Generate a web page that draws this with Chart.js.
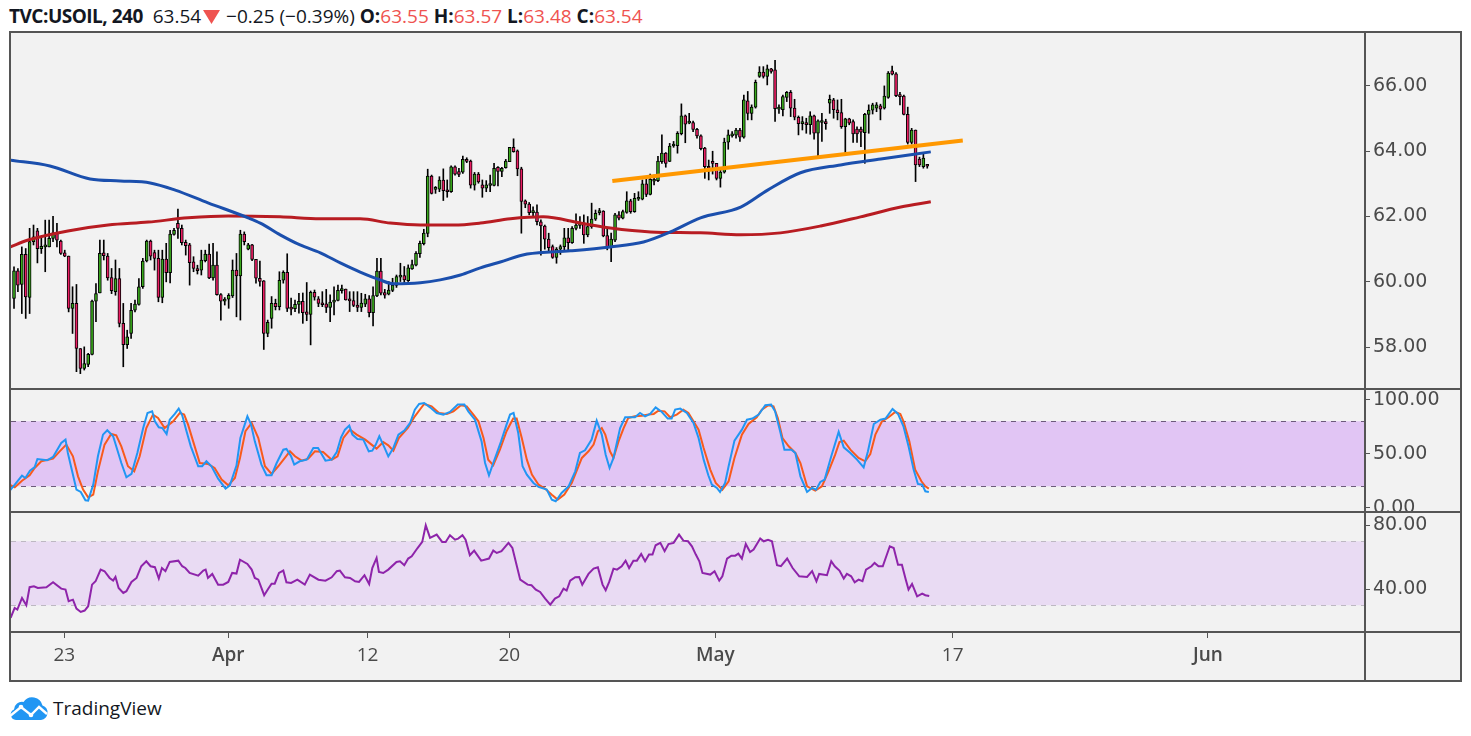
<!DOCTYPE html>
<html>
<head>
<meta charset="utf-8">
<script src="https://cdn.jsdelivr.net/npm/chart.js@4.4.1/dist/chart.umd.min.js"></script>
<style>
  html, body { margin: 0; width: 1471px; height: 736px; background: #fff; overflow: hidden; font-family: "Open Sans", sans-serif; }
  #head { position: absolute; left: 9px; top: 2px; line-height: 28px; font-size: 19px; color: #131722; white-space: nowrap; }
  #head b { font-weight: 700; }
  #head b.title { letter-spacing: -0.5px; }
  #head .dn { color: #ef5350; }
  #head svg { vertical-align: -1px; margin: 0 1px 0 2px; }
  #frame { position: absolute; left: 9px; top: 31px; width: 1453px; height: 651px; box-sizing: border-box; border: 2px solid #555; background: #f2f2f2; }
  #frame canvas { position: absolute; left: 0; }
  .hl { position: absolute; left: 0; width: 1449px; height: 2px; background: #555; }
  .vl { position: absolute; top: 0; left: 1353px; width: 2px; height: 647px; background: #555; }
  #logo { position: absolute; left: 8px; top: 695px; display: flex; align-items: center; font-size: 19px; color: #131722; }
  #logo svg { margin-right: 4px; }
</style>
</head>
<body>
<div id="head"></div>
<div id="frame">
  <canvas id="price" width="1449" height="355" style="top:0"></canvas>
  <canvas id="stoch" width="1449" height="121" style="top:357px"></canvas>
  <canvas id="rsi" width="1449" height="167" style="top:480px"></canvas>
  <div class="hl" style="top:355px"></div>
  <div class="hl" style="top:478px"></div>
  <div class="hl" style="top:598px"></div>
  <div class="vl"></div>
</div>
<div id="logo">
  <svg width="41" height="26" viewBox="0 0 41 26">
    <path d="M8 25 H33 A7.5 7.5 0 0 0 34.5 10.5 A10.5 10.5 0 0 0 15.5 7 A8 8 0 0 0 6 14.5 A5.5 5.5 0 0 0 8 25 Z" fill="#2196f3"/>
    <polyline points="2,21 13,12 23,20 31,12 39,19" fill="none" stroke="#fff" stroke-width="2.4"/>
    <circle cx="13" cy="12" r="2.3" fill="#fff"/>
    <circle cx="23" cy="20" r="2.3" fill="#fff"/>
  </svg>
  <span>TradingView</span>
</div>
<script>
const symbol = 'TVC:USOIL';
const interval = '240';

// 4h candles, oldest first
const opens = [59.49,60.34,59.92,60.84,59.52,61.23,61.56,61.02,61.07,61.07,61.33,61.50,61.25,60.89,60.79,59.19,59.34,57.96,57.35,57.47,
  57.78,59.41,59.66,60.89,60.79,60.13,59.70,60.10,58.73,58.08,58.42,59.13,59.31,59.85,60.64,61.25,60.90,60.72,59.52,60.70,
  60.28,61.45,61.79,61.64,61.21,61.13,60.61,60.41,60.36,60.65,60.85,60.12,60.51,59.61,59.41,59.47,59.57,60.36,60.18,61.46,
  61.00,61.13,60.69,60.11,60.03,58.42,58.88,59.34,59.24,60.05,60.29,59.23,59.18,59.31,59.40,59.08,59.00,59.68,59.48,59.36,
  59.33,59.22,59.38,59.43,59.73,59.78,59.45,59.43,59.29,59.22,59.32,59.48,59.06,59.57,60.33,59.67,59.62,59.74,59.89,60.14,
  60.19,60.04,60.40,60.51,60.86,61.17,61.48,63.24,62.83,62.84,63.12,62.80,62.76,63.52,63.38,63.36,63.75,63.70,62.96,63.30,
  62.97,62.87,62.95,62.95,63.51,63.38,63.50,63.68,64.12,64.01,63.46,62.48,62.38,62.12,62.14,61.84,61.71,61.31,61.08,60.75,
  61.00,61.08,61.35,61.20,61.64,61.73,61.81,61.44,61.69,61.92,62.12,62.17,61.42,61.05,61.28,62.05,61.95,62.13,62.48,62.15,
  62.53,62.53,63.00,62.68,63.08,63.10,63.68,63.94,63.69,64.16,64.17,64.54,65.08,64.86,64.88,64.67,64.47,64.10,63.53,63.65,
  63.63,63.17,63.36,64.28,64.47,64.49,64.65,64.43,65.54,65.16,65.35,66.29,66.42,66.29,66.52,66.49,65.29,65.27,65.65,65.80,
  65.32,65.04,64.84,64.88,64.81,65.08,64.55,64.88,64.91,65.47,65.57,65.27,65.18,64.75,64.99,64.91,64.68,64.68,64.57,65.13,
  65.26,65.32,65.39,65.32,65.65,66.46,66.37,65.72,65.69,65.13,64.27,64.65,63.76,63.53,63.55];
const highs = [60.46,60.41,61.07,61.02,61.64,61.74,61.64,61.38,61.89,61.89,62.01,61.79,61.28,60.97,60.79,59.85,59.92,57.96,58.01,57.81,
  59.44,59.95,61.28,61.28,60.87,60.41,60.67,60.41,59.34,58.52,59.34,59.44,60.10,60.72,61.28,61.28,60.97,60.97,60.97,61.18,
  61.58,61.64,62.23,61.74,61.28,61.18,60.77,60.51,60.97,60.97,61.16,61.18,60.92,59.64,59.52,59.64,60.67,60.87,61.58,61.53,
  61.18,61.15,60.69,60.64,60.04,58.83,59.55,59.47,60.31,60.34,60.86,59.50,59.44,59.65,59.66,59.98,59.72,59.75,59.55,59.70,
  59.77,59.60,59.85,59.90,59.90,59.78,59.70,59.70,59.70,59.65,59.62,59.58,59.85,60.72,60.72,59.77,60.01,60.11,60.21,60.57,
  60.47,60.52,60.67,60.93,61.25,61.61,63.45,63.27,62.92,63.22,63.46,63.12,63.55,63.55,63.48,63.85,63.80,63.73,63.35,63.35,
  63.12,63.10,63.27,63.63,63.53,63.51,63.75,64.12,64.38,64.04,63.51,62.51,62.43,62.30,62.36,61.90,61.74,61.49,61.13,61.05,
  61.13,61.64,61.64,61.69,62.08,62.00,62.05,62.00,62.41,62.20,62.25,62.18,61.64,61.49,62.10,62.15,62.20,62.76,62.53,62.71,
  62.76,63.12,63.17,63.30,63.27,63.84,64.50,63.96,64.24,64.30,64.60,65.45,65.11,65.16,64.92,64.70,64.50,64.12,63.73,64.00,
  63.63,63.48,64.40,64.65,64.60,64.70,64.70,65.72,65.83,65.42,66.18,66.59,66.59,66.64,66.54,66.78,65.42,65.72,65.83,65.86,
  65.59,65.08,65.06,65.01,65.21,65.11,64.96,65.16,64.98,65.72,65.62,65.57,65.59,65.01,65.01,64.96,64.75,64.74,65.16,65.42,
  65.47,65.49,65.44,66.00,66.44,66.61,66.41,65.80,65.72,65.35,64.70,64.65,63.82,63.92,63.57];
const lows = [59.19,59.70,59.03,58.88,59.03,61.13,60.58,60.87,60.31,61.07,61.23,61.07,60.84,60.77,59.08,58.42,57.25,57.19,57.30,57.40,
  57.76,58.78,59.66,60.67,60.05,59.64,59.59,58.62,57.40,57.96,58.27,59.08,59.29,59.80,60.61,60.67,60.36,59.39,59.36,60.00,
  59.97,61.43,61.33,61.13,60.82,59.90,60.31,60.24,60.21,60.61,60.10,60.05,59.59,58.83,59.29,59.19,59.52,58.93,58.83,61.13,
  60.98,60.65,59.96,59.87,57.93,58.32,58.58,59.14,59.14,59.96,59.09,58.99,59.09,59.04,58.73,58.81,58.07,59.44,59.24,59.24,
  59.06,58.78,58.99,59.42,59.65,59.44,59.09,59.24,59.09,59.09,59.24,58.93,58.65,59.55,59.60,59.50,59.60,59.70,59.83,60.01,
  59.98,60.01,60.38,60.49,60.75,61.13,61.38,62.69,62.71,62.76,62.49,62.59,62.74,63.27,63.22,63.32,63.65,62.87,62.81,63.02,
  62.59,62.76,62.76,62.94,62.94,63.22,63.48,63.68,63.97,63.25,61.49,62.27,62.05,62.00,61.74,60.82,61.00,60.93,60.72,60.57,
  60.84,60.93,60.98,61.18,61.59,61.64,61.18,61.38,61.64,61.88,62.05,61.38,60.98,60.62,61.23,61.90,61.93,62.10,62.10,62.13,
  62.49,62.51,62.61,62.66,62.97,63.07,63.63,63.51,63.68,64.12,63.94,64.50,64.26,64.84,64.60,64.40,64.04,63.17,63.12,63.30,
  63.12,62.90,63.33,64.06,64.43,64.40,64.30,64.40,64.96,64.96,65.32,66.26,66.24,66.03,66.39,64.91,65.16,65.08,65.52,65.06,
  64.96,64.50,64.65,64.55,64.52,64.37,63.86,64.30,64.67,65.16,65.01,64.96,64.70,63.94,64.81,64.27,64.27,64.14,63.63,64.55,
  65.14,65.21,64.96,65.29,65.62,66.34,65.67,65.42,65.11,64.22,64.22,63.07,63.53,63.48,63.48];
const closes = [60.34,59.90,60.84,59.54,61.23,61.38,61.02,61.09,61.09,61.33,61.50,61.28,60.87,60.79,59.19,59.34,57.96,57.35,57.50,57.78,
  59.41,59.64,60.87,60.80,60.12,59.73,60.10,58.73,58.08,58.32,59.13,59.32,59.85,60.64,61.25,60.79,60.72,59.52,60.70,60.28,
  61.46,61.58,61.64,61.20,61.11,60.59,60.41,60.34,60.67,60.85,60.12,60.51,59.61,59.41,59.47,59.59,60.36,60.18,61.46,61.23,
  61.13,60.69,60.11,60.01,58.42,58.76,59.34,59.24,60.05,60.29,59.19,59.16,59.31,59.40,59.06,59.00,59.68,59.53,59.34,59.30,
  59.22,59.38,59.44,59.74,59.78,59.45,59.42,59.28,59.22,59.35,59.48,59.06,59.58,60.33,59.65,59.59,59.75,59.90,60.16,60.21,
  60.06,60.43,60.53,60.87,61.18,61.49,63.24,62.71,62.87,63.12,62.79,62.76,63.52,63.30,63.29,63.75,63.69,62.96,63.30,63.06,
  62.87,62.97,62.97,63.48,63.38,63.48,63.70,64.12,63.99,63.46,62.46,62.38,62.12,62.14,61.84,61.71,61.31,61.05,60.75,61.00,
  61.08,61.35,61.20,61.64,61.74,61.81,61.44,61.69,61.92,62.10,62.15,61.41,61.05,61.31,62.05,61.95,62.15,62.48,62.15,62.56,
  62.58,63.00,62.68,63.14,63.10,63.70,63.94,63.63,64.16,64.19,64.55,65.08,64.83,64.88,64.67,64.47,64.08,63.53,63.48,63.63,
  63.17,63.36,64.28,64.50,64.50,64.65,64.43,65.57,65.16,65.35,66.11,66.42,66.29,66.52,66.44,65.30,65.32,65.67,65.80,65.32,
  65.04,64.84,64.91,64.81,65.08,64.55,64.93,64.91,64.84,65.59,65.27,65.18,64.75,64.99,64.86,64.53,64.53,64.58,65.13,65.26,
  65.42,65.42,65.29,65.69,66.39,66.36,65.70,65.67,65.13,64.27,64.65,63.58,63.58,63.79,63.54];

// moving averages, [bar index, price]
const maFast = [[-1,63.73],[9.2,63.55],[19.5,63.15],[27.2,63.09],[34.9,63.03],[41.3,62.81],[49.7,62.42],[60,61.96],[63.1,61.80],
  [68.2,61.44],[73.3,61.13],[78.5,60.89],[83.6,60.58],[88.7,60.30],[93.8,60.06],[97.2,59.94],[104.1,59.97],[109.2,60.06],
  [114.4,60.21],[119.5,60.43],[124.6,60.61],[131.5,60.85],[142.6,60.95],[152.8,61.07],[161.3,61.22],[168.2,61.53],
  [175.9,61.96],[186.2,62.29],[193.1,62.81],[201.5,63.34],[211.8,63.58],[222.1,63.76],[234.9,63.98]];
const maSlow = [[-1,61.07],[3.6,61.28],[13.8,61.56],[24.1,61.74],[34.4,61.83],[44.6,61.96],[54.9,62.02],[68.2,61.99],
  [78.5,61.93],[88.7,61.93],[96.4,61.80],[104.1,61.74],[112.6,61.74],[119.5,61.80],[127.2,61.93],[135.6,61.99],
  [145.1,61.80],[152.8,61.65],[163.1,61.53],[175.9,61.50],[186.2,61.44],[196.4,61.50],[206.7,61.71],[216.9,61.99],
  [227.2,62.29],[234.9,62.45]];
const trendLine = [[153.3,63.09],[243.1,64.33]];

// stochastic %K / %D, [bar index, value]
const stochK = [[-1.1,16.0],[0.2,21.5],[2.05,29.8],[2.9,27.7],[4.1,34.5],[5.3,37.8],[6.0,45.2],[7.4,44.6],[8.5,44.0],[10.0,47.1],
  [12.1,60.0],[13.2,63.1],[13.8,50.8],[14.7,36.9],[16.0,16.9],[17.1,14.8],[18.3,7.1],[19.0,6.8],[20.3,21.5],[21.5,47.7],
  [22.8,67.7],[23.9,71.7],[25.4,66.2],[27.5,41.5],[28.8,28.3],[30.1,31.4],[31.6,50.8],[33.1,73.8],[34.2,87.7],[35.4,89.2],
  [36.1,80.0],[37.1,74.5],[38.0,73.8],[39.1,68.3],[39.9,81.5],[41.2,86.8],[42.2,91.7],[43.1,85.5],[44.2,70.8],[45.3,56.9],
  [47.2,38.5],[48.2,38.5],[49.3,43.1],[50.6,38.5],[52.3,27.1],[54.2,17.8],[55.3,20.9],[57.0,39.1],[58.0,64.6],[59.8,84.6],
  [60.7,77.5],[61.7,61.5],[63.4,40.0],[64.7,30.2],[66.0,30.2],[67.3,41.5],[69.0,53.8],[69.8,54.5],[71.0,47.7],[71.8,40.0],
  [73.2,43.1],[75.0,44.6],[76.7,55.4],[77.9,55.4],[79.8,43.7],[81.4,44.6],[82.7,51.7],[83.8,65.2],[84.8,72.3],[85.9,76.0],
  [86.7,67.7],[88.0,63.7],[89.5,63.1],[90.9,52.3],[91.8,52.9],[92.7,58.5],[93.6,66.2],[94.9,56.0],[95.9,47.7],[97.2,55.4],
  [98.5,67.7],[100.0,71.4],[101.5,78.5],[102.7,90.8],[103.8,96.0],[105.1,96.9],[106.6,92.9],[108.3,87.7],[110.0,86.2],
  [111.7,88.6],[113.7,95.4],[115.4,95.4],[116.4,89.2],[118.1,81.5],[119.8,61.5],[120.7,41.5],[121.7,30.2],[122.8,41.5],
  [124.8,61.5],[126.2,76.9],[127.1,86.2],[128.0,87.7],[129.2,69.2],[130.3,38.5],[131.4,30.8],[133.1,23.1],[134.4,19.4],
  [136.5,16.9],[137.8,7.7],[138.8,6.2],[140.3,13.8],[142.1,20.0],[143.8,33.8],[145.0,50.8],[146.3,53.2],[148.0,63.1],
  [149.3,80.6],[150.6,67.7],[151.6,49.2],[152.6,36.9],[153.6,46.2],[155.3,73.8],[156.6,83.7],[159.1,83.7],[160.4,87.7],
  [161.7,84.6],[163.0,86.8],[164.4,92.9],[166.0,88.6],[167.5,82.5],[168.5,82.5],[169.4,90.8],[170.7,91.7],[172.4,87.7],
  [174.1,78.5],[175.4,64.6],[176.7,44.6],[177.9,30.2],[178.8,21.5],[180.1,18.5],[180.9,14.8],[182.2,23.1],[183.1,38.5],
  [184.6,62.2],[186.5,72.3],[187.8,81.5],[189.2,82.5],[190.8,86.2],[192.5,94.8],[194.0,95.4],[195.0,89.2],[196.3,70.8],
  [197.4,53.8],[199.2,53.8],[200.2,50.8],[201.5,29.2],[203.2,14.8],[204.5,18.5],[205.5,16.9],[206.6,24.0],[207.7,26.2],
  [209.4,47.7],[211.3,70.2],[212.6,56.0],[214.3,50.8],[216.0,44.6],[217.7,37.5],[218.8,52.3],[220.3,77.5],[222.0,81.5],
  [223.3,82.5],[225.1,91.4],[226.5,86.8],[227.9,75.4],[229.2,56.9],[230.5,35.4],[231.6,22.2],[232.7,21.5],[233.5,15.4],
  [234.4,14.8]];
const stochD = [[-1.1,21.5],[0.2,19.1],[2.05,25.2],[4.0,30.2],[5.3,36.9],[7.0,43.1],[10.0,45.5],[11.7,52.3],[13.4,58.5],
  [15.1,47.7],[16.4,29.2],[17.7,16.9],[19.0,9.8],[20.3,12.3],[21.5,33.8],[23.2,58.5],[24.9,68.3],[26.2,67.1],[27.5,56.9],
  [29.2,38.5],[30.8,33.8],[32.2,47.7],[33.9,73.8],[35.6,86.2],[36.9,83.1],[38.6,73.8],[40.8,80.0],[42.5,87.7],[43.6,86.2],
  [44.6,76.9],[45.9,61.5],[47.6,41.5],[49.7,40.6],[51.4,36.9],[53.2,26.2],[54.9,20.9],[56.6,27.7],[57.9,46.2],[59.3,70.8],
  [60.9,78.5],[62.6,64.6],[64.3,38.5],[66.0,31.4],[67.7,38.5],[69.4,46.2],[70.7,52.3],[72.0,47.7],[73.7,43.7],[75.4,45.5],
  [77.1,52.3],[79.2,51.7],[81.4,44.6],[82.9,47.7],[84.4,64.6],[86.1,72.3],[87.8,67.7],[90.0,63.1],[91.6,58.5],[92.9,54.8],
  [94.6,60.9],[95.9,57.8],[97.2,52.9],[98.6,64.6],[100.9,73.8],[102.7,84.6],[104.3,92.3],[105.1,96.0],[107.0,93.8],
  [108.9,87.7],[110.9,86.8],[112.6,89.2],[114.5,94.8],[116.0,93.8],[117.7,86.2],[119.0,80.0],[120.3,64.6],[121.5,44.6],
  [122.8,39.4],[124.5,53.8],[126.2,70.8],[127.9,82.5],[128.8,82.5],[130.1,64.6],[131.4,44.6],[132.7,30.8],[134.4,21.5],
  [136.1,17.8],[137.8,12.3],[139.3,7.7],[141.0,12.3],[142.9,23.1],[145.5,46.2],[147.2,52.3],[148.5,58.5],[149.6,70.8],
  [150.6,73.8],[151.5,67.7],[152.7,52.3],[153.6,46.2],[154.9,61.5],[156.2,73.8],[157.4,83.1],[159.1,84.6],[160.9,85.2],
  [162.6,86.2],[163.9,86.8],[165.1,89.8],[166.7,89.2],[168.1,83.7],[169.8,86.2],[171.5,90.8],[172.8,87.7],[175.4,72.3],
  [176.7,55.4],[178.4,35.4],[179.8,23.1],[181.5,16.9],[183.1,24.6],[184.6,46.2],[186.5,67.7],[188.2,77.5],[190.3,83.7],
  [191.6,90.8],[193.3,94.8],[194.6,93.8],[195.7,83.1],[196.9,64.6],[198.5,56.9],[200.2,50.8],[201.5,41.5],[203.2,20.0],
  [205.3,16.0],[207.0,20.0],[208.7,33.8],[210.4,49.2],[211.5,60.9],[212.6,62.2],[214.3,53.8],[216.4,46.2],[218.1,43.1],
  [219.4,49.8],[220.7,67.7],[222.4,80.0],[224.1,83.7],[225.8,88.6],[227.1,86.8],[227.9,80.0],[229.4,61.5],[230.9,35.4],
  [232.5,24.6],[233.5,20.0],[234.4,17.8]];

// RSI, [bar index, value]
const rsi = [[-0.86,22.1],[0.17,28.3],[0.85,27.3],[2.05,34.6],[3.16,30.0],[4.0,41.3],[5.1,41.9],[6.1,40.8],[8.3,41.3],
  [10.0,44.4],[12.1,40.4],[13.2,39.8],[14.0,32.5],[15.1,33.5],[16.0,27.9],[17.1,25.8],[18.1,26.7],[19.0,29.4],[20.0,42.9],
  [20.9,45.0],[22.2,52.3],[23.2,51.3],[24.5,47.1],[25.4,45.4],[26.0,47.7],[26.8,40.8],[28.0,37.7],[28.8,38.8],[30.1,44.6],
  [31.4,47.1],[32.6,54.4],[33.9,57.5],[35.0,54.4],[36.1,53.8],[37.1,46.7],[37.9,53.3],[38.8,51.3],[39.9,57.1],[42.1,57.9],
  [43.1,54.4],[43.9,53.3],[45.0,50.2],[47.2,48.5],[48.5,51.7],[49.1,52.3],[49.7,47.1],[50.8,49.6],[52.3,42.9],[53.6,42.9],
  [54.9,44.6],[55.9,50.2],[57.0,49.8],[57.9,58.5],[59.8,55.8],[60.9,52.3],[61.7,47.1],[62.6,46.0],[64.1,36.3],[65.1,40.2],
  [66.0,43.5],[66.8,43.5],[67.9,50.2],[69.0,51.7],[69.8,44.4],[71.0,44.0],[72.6,46.0],[74.5,42.9],[75.8,49.2],[78.0,46.0],
  [79.8,45.4],[81.4,47.5],[82.7,51.3],[83.5,51.7],[84.8,47.5],[86.1,47.1],[87.4,45.0],[88.4,44.6],[89.8,48.8],[91.0,43.3],
  [91.8,53.3],[92.9,59.6],[93.5,50.8],[94.6,50.2],[95.9,52.3],[98.0,57.1],[98.9,57.5],[100.0,55.0],[101.0,59.2],[101.9,60.6],
  [103.4,65.8],[104.6,69.6],[105.5,80.0],[106.6,72.1],[108.3,74.2],[109.7,69.6],[110.6,69.6],[111.7,73.8],[113.0,71.0],
  [113.8,71.7],[114.9,73.8],[115.7,71.0],[116.8,61.3],[117.9,64.2],[119.7,57.9],[121.7,59.2],[122.8,64.2],[123.7,62.7],
  [124.9,63.8],[126.7,69.0],[127.7,65.8],[129.7,46.0],[131.6,42.9],[132.6,42.5],[133.7,39.8],[134.8,38.3],[136.1,34.2],
  [137.4,30.4],[138.6,34.2],[139.7,35.6],[140.8,40.4],[141.6,39.2],[142.5,45.4],[143.8,47.5],[144.8,47.7],[145.6,42.9],
  [147.2,49.6],[148.5,52.9],[149.6,53.8],[150.8,42.9],[151.6,39.4],[152.5,44.6],[153.6,52.9],[154.5,52.3],[155.7,54.4],
  [156.7,57.9],[157.6,53.3],[158.7,57.9],[159.6,57.9],[160.7,62.1],[161.7,57.5],[162.7,61.7],[163.6,61.7],[164.4,67.5],
  [165.6,69.0],[166.7,63.8],[167.7,68.3],[169.0,69.0],[170.4,74.2],[171.5,70.4],[172.7,70.0],[173.7,66.9],[174.7,61.7],
  [175.6,57.5],[176.4,50.2],[178.4,49.2],[179.5,51.3],[180.7,45.4],[181.5,48.1],[182.7,59.2],[183.8,61.0],[184.8,61.0],
  [185.6,62.3],[186.5,59.2],[187.5,68.3],[188.6,63.3],[189.5,64.8],[191.2,71.7],[192.1,70.0],[193.2,71.0],[194.2,70.0],
  [195.5,55.0],[196.5,54.4],[198.1,59.2],[199.5,53.3],[201.2,48.1],[203.2,47.7],[204.5,51.3],[205.6,45.0],[206.3,49.6],
  [208.3,48.8],[209.4,57.5],[210.3,54.4],[211.5,51.7],[212.6,46.7],[213.4,49.6],[214.5,48.1],[215.4,44.4],[216.4,46.0],
  [217.4,45.0],[218.3,52.3],[219.7,54.4],[220.5,56.5],[221.5,54.4],[222.6,54.4],[224.4,66.9],[225.4,65.8],[226.5,55.4],
  [227.5,55.4],[228.5,46.0],[229.2,39.8],[230.1,43.3],[231.4,35.6],[232.7,37.3],[233.5,36.3],[234.5,35.8]];

// time axis labels at bar positions (right part is empty future space)
const dateTicks = [12.9, 54.9, 90.6, 126.9, 179.7, 240.5, 305.9];
const dateLabels = ['23', 'Apr', '12', '20', 'May', '17', 'Jun'];
const priceTicks = [58, 60, 62, 64, 66];
const stochTicks = [0, 50, 100];
const rsiTicks = [40, 80];
const stochBand = [20, 80];
const rsiBand = [30, 70];

const X_MIN = -0.77, X_MAX = 345.9;
const UP = '#39a81c', DOWN = '#ea1e63';
const AXIS_TXT = '#4a4a4a';

// header line
const n = closes.length;
const last = closes[n - 1], prev = closes[n - 2];
const chg = last - prev;
const fmt = v => (v < 0 ? '\u2212' : '') + Math.abs(v).toFixed(2);
const ohlcCls = last < opens[n - 1] ? 'dn' : 'up';
const arrow = chg < 0
  ? '<svg width="17" height="14" viewBox="0 0 17 14"><path d="M0 0 H17 L8.5 14 Z" fill="#ef5350"/></svg>'
  : '<svg width="17" height="14" viewBox="0 0 17 14"><path d="M0 14 H17 L8.5 0 Z" fill="#26a69a"/></svg>';
document.getElementById('head').innerHTML =
  `<b class="title">${symbol}, ${interval}</b>&nbsp; ${last.toFixed(2)}${arrow} ${fmt(chg)} (${fmt(chg / prev * 100)}%) ` +
  `<b>O:</b><span class="${ohlcCls}">${opens[n-1].toFixed(2)}</span> <b>H:</b><span class="${ohlcCls}">${highs[n-1].toFixed(2)}</span> ` +
  `<b>L:</b><span class="${ohlcCls}">${lows[n-1].toFixed(2)}</span> <b>C:</b><span class="${ohlcCls}">${last.toFixed(2)}</span>`;

const pts = arr => arr.map(p => ({x: p[0], y: p[1]}));

function yAxis(min, max, ticks) {
  return {
    position: 'right', min, max,
    afterBuildTicks: s => { s.ticks = ticks.map(v => ({value: v})); },
    afterFit: s => { s.width = 96; s.paddingTop = 0; s.paddingBottom = 0; },
    border: {display: false},
    grid: {drawOnChartArea: false, tickLength: 6, tickColor: '#555'},
    ticks: {color: AXIS_TXT, padding: 3, font: {family: 'DejaVu Sans', size: 19}, callback: v => v.toFixed(2)}
  };
}

const hiddenX = {type: 'linear', min: X_MIN, max: X_MAX, offset: false, display: false};

// filled band with dashed edges for the oscillator panes
function bandPlugin(band, fill, dash) {
  return {
    id: 'band',
    beforeDatasetsDraw(chart) {
      const {ctx, chartArea: a, scales: {y}} = chart;
      const top = y.getPixelForValue(band[1]), bot = y.getPixelForValue(band[0]);
      ctx.save();
      ctx.fillStyle = fill;
      ctx.fillRect(a.left, top, a.right - a.left, bot - top);
      ctx.strokeStyle = dash;
      ctx.lineWidth = 1;
      ctx.setLineDash([5, 5]);
      [top, bot].forEach(py => {
        ctx.beginPath();
        ctx.moveTo(a.left, Math.round(py) + 0.5);
        ctx.lineTo(a.right, Math.round(py) + 0.5);
        ctx.stroke();
      });
      ctx.restore();
    }
  };
}

const base = {
  responsive: false,
  animation: false,
  events: [],
  layout: {padding: 0},
  plugins: {legend: {display: false}, tooltip: {enabled: false}}
};

const idx = opens.map((_, i) => i);

new Chart(document.getElementById('price'), {
  type: 'bar',
  data: {
    datasets: [
      {
        type: 'line', data: pts(trendLine), borderColor: '#ff9800', borderWidth: 4,
        pointRadius: 0, order: 0
      },
      {
        type: 'line', data: pts(maFast), borderColor: '#1b4fad', borderWidth: 3,
        pointRadius: 0, cubicInterpolationMode: 'monotone', order: 0
      },
      {
        type: 'line', data: pts(maSlow), borderColor: '#b81c22', borderWidth: 3,
        pointRadius: 0, cubicInterpolationMode: 'monotone', order: 0
      },
      {
        data: idx.map(i => ({x: i, y: [Math.min(opens[i], closes[i]), Math.max(opens[i], closes[i])]})),
        backgroundColor: idx.map(i => closes[i] >= opens[i] ? UP : DOWN),
        borderColor: '#000', borderWidth: 1, borderSkipped: false,
        barThickness: 3, minBarLength: 2, grouped: false, order: 1
      },
      {
        data: idx.map(i => ({x: i, y: [lows[i], highs[i]]})),
        backgroundColor: '#000', barThickness: 1, grouped: false, order: 2
      }
    ]
  },
  options: {
    ...base,
    scales: {x: hiddenX, y: yAxis(56.75, 67.62, priceTicks)}
  }
});

new Chart(document.getElementById('stoch'), {
  type: 'line',
  data: {
    datasets: [
      {data: pts(stochK), borderColor: '#2196f3', borderWidth: 2, pointRadius: 0},
      {data: pts(stochD), borderColor: '#f85a1c', borderWidth: 2, pointRadius: 0}
    ]
  },
  options: {
    ...base,
    scales: {x: hiddenX, y: yAxis(-2.8, 108.9, stochTicks)}
  },
  plugins: [bandPlugin(stochBand, '#e1c5f4', '#6d5b7b')]
});

new Chart(document.getElementById('rsi'), {
  type: 'line',
  data: {
    datasets: [
      {data: pts(rsi), borderColor: '#8e24aa', borderWidth: 2, pointRadius: 0}
    ]
  },
  options: {
    ...base,
    scales: {
      x: {
        type: 'linear', min: X_MIN, max: X_MAX, offset: false,
        afterBuildTicks: s => { s.ticks = dateTicks.map(v => ({value: v})); },
        afterFit: s => { s.height = 49; s.paddingLeft = 0; s.paddingRight = 0; },
        border: {display: false},
        grid: {drawOnChartArea: false, tickLength: 7, tickColor: '#555'},
        ticks: {
          autoSkip: false, maxRotation: 0, padding: 6, color: AXIS_TXT,
          font: c => ({family: 'Open Sans', size: 19, weight: /^[A-Z]/.test(dateLabels[c.index] || '') ? '600' : '400'}),
          callback: (v, i) => dateLabels[i]
        }
      },
      y: yAxis(13.9, 87.7, rsiTicks)
    }
  },
  plugins: [bandPlugin(rsiBand, '#e9dbf3', '#bdb8c2')]
});
</script>
</body>
</html>
